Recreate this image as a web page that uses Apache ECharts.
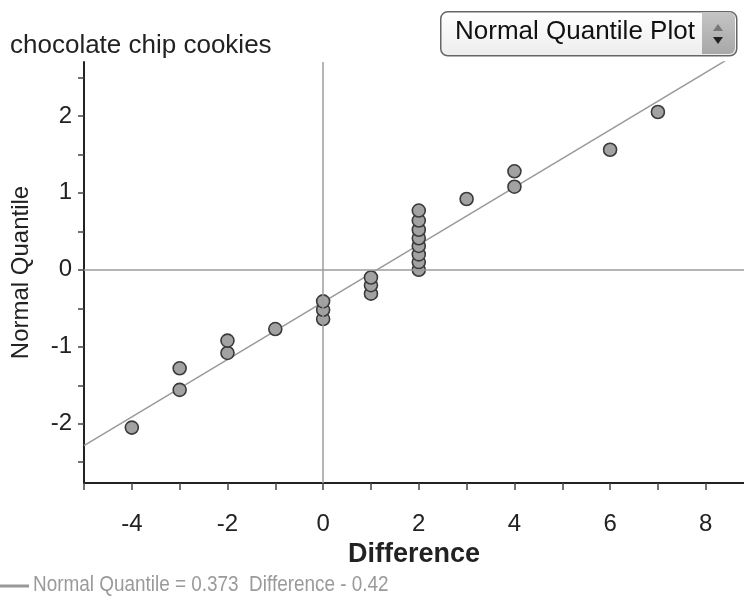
<!DOCTYPE html>
<html>
<head>
<meta charset="utf-8">
<script src="https://cdn.jsdelivr.net/npm/echarts@6/dist/echarts.min.js"></script>
<style>
html,body{margin:0;padding:0;background:#fff;}
#chart{width:744px;height:602px;}
</style>
</head>
<body>
<div id="chart"></div>
<script>
// Data
var differences = [-4, -3, -3, -2, -2, -1, 0, 0, 0, 1, 1, 1, 2, 2, 2, 2, 2, 2, 2, 2, 3, 4, 4, 6, 7];
var normalQuantiles = [-2.05, -1.56, -1.28, -1.08, -0.92, -0.77, -0.64, -0.52, -0.41, -0.31, -0.20, -0.10,
  0.00, 0.10, 0.20, 0.31, 0.41, 0.52, 0.64, 0.77, 0.92, 1.08, 1.28, 1.56, 2.05];
var xTickLabels = [-4, -2, 0, 2, 4, 6, 8];
var xTicks = [-5, -4, -3, -2, -1, 0, 1, 2, 3, 4, 5, 6, 7, 8];
var yTickLabels = [-2, -1, 0, 1, 2];
var yTicks = [-2.5, -2, -1.5, -1, -0.5, 0, 0.5, 1, 1.5, 2, 2.5];
var fitSlope = 0.373;
var fitIntercept = -0.42;
var xRange = [-5, 8.8];
var yRange = [-2.77, 2.7];

var fitLine = xRange.map(function (x) { return [x, fitSlope * x + fitIntercept]; });
var points = differences.map(function (d, i) { return [d, normalQuantiles[i]]; });

var chart = echarts.init(document.getElementById('chart'), null, {renderer: 'canvas'});
var font = '"Liberation Sans", Arial, sans-serif';
chart.setOption({
  animation: false,
  title: {
    text: 'chocolate chip cookies',
    left: 5, top: 28,
    textStyle: {fontFamily: font, fontSize: 26, fontWeight: 'normal', color: '#222'}
  },
  grid: {left: 84, right: 0, top: 62, bottom: 119},
  xAxis: {
    type: 'value', min: xRange[0], max: xRange[1],
    name: 'Difference', nameLocation: 'middle', nameGap: 53,
    nameTextStyle: {fontFamily: font, fontSize: 27, fontWeight: 'bold', color: '#222'},
    axisLine: {show: true, onZero: false, lineStyle: {color: '#222', width: 2}},
    axisTick: {show: true, customValues: xTicks, length: 7, lineStyle: {color: '#444', width: 1.5}},
    axisLabel: {customValues: xTickLabels, margin: 29, fontFamily: font, fontSize: 24, color: '#222'},
    splitLine: {show: false}
  },
  yAxis: {
    type: 'value', min: yRange[0], max: yRange[1],
    name: 'Normal Quantile', nameLocation: 'middle', nameGap: 51, nameRotate: 90,
    nameTextStyle: {fontFamily: font, fontSize: 24, color: '#222'},
    axisLine: {show: true, onZero: false, lineStyle: {color: '#222', width: 2}},
    axisTick: {show: true, customValues: yTicks, length: 6, lineStyle: {color: '#444', width: 1.5}},
    axisLabel: {customValues: yTickLabels, margin: 12, fontFamily: font, fontSize: 24, color: '#222'},
    splitLine: {show: false}
  },
  series: [
    {
      type: 'line', data: fitLine, symbol: 'none', silent: true,
      lineStyle: {color: '#9a9a9a', width: 1.5}, z: 2,
      markLine: {
        silent: true, symbol: 'none', label: {show: false},
        lineStyle: {color: '#9c9c9c', width: 1.5, type: 'solid'},
        data: [{xAxis: 0}, {yAxis: 0}]
      }
    },
    {
      type: 'scatter', data: points, symbol: 'circle', symbolSize: 13, z: 3,
      itemStyle: {color: '#a2a2a2', borderColor: '#3a3a3a', borderWidth: 1.6, opacity: 1}
    }
  ],
  graphic: [
    {
      type: 'rect', left: 440, top: 11, z: 10,
      shape: {width: 296, height: 44, r: 7},
      style: {
        fill: new echarts.graphic.LinearGradient(0, 0, 0, 1, [{offset: 0, color: '#ffffff'}, {offset: 1, color: '#ededed'}]),
        stroke: '#666', lineWidth: 1.5
      }
    },
    {
      type: 'rect', left: 702, top: 12, z: 11,
      shape: {width: 33, height: 42, r: [0, 6, 6, 0]},
      style: {
        fill: new echarts.graphic.LinearGradient(0, 0, 0, 1, [{offset: 0, color: '#c4c4c4'}, {offset: 1, color: '#a8a8a8'}])
      }
    },
    {
      type: 'polygon', z: 12,
      shape: {points: [[713, 31], [723, 31], [718, 24]]},
      style: {fill: '#777'}
    },
    {
      type: 'polygon', z: 12,
      shape: {points: [[713, 37], [723, 37], [718, 44]]},
      style: {fill: '#222'}
    },
    {
      type: 'text', left: 455, top: 19, z: 12,
      style: {text: 'Normal Quantile Plot', font: '26px ' + font, fill: '#111'}
    },
    {
      type: 'line', z: 10,
      shape: {x1: 0, y1: 586, x2: 29, y2: 586},
      style: {stroke: '#999', lineWidth: 3}
    },
    {
      type: 'text', x: 33, y: 574, scaleX: 0.86, z: 10,
      style: {x: 0, y: 0, text: 'Normal Quantile = 0.373  Difference - 0.42', font: '22px ' + font,
        fill: '#9a9a9a', verticalAlign: 'top', align: 'left'}
    }
  ]
});
</script>
</body>
</html>
